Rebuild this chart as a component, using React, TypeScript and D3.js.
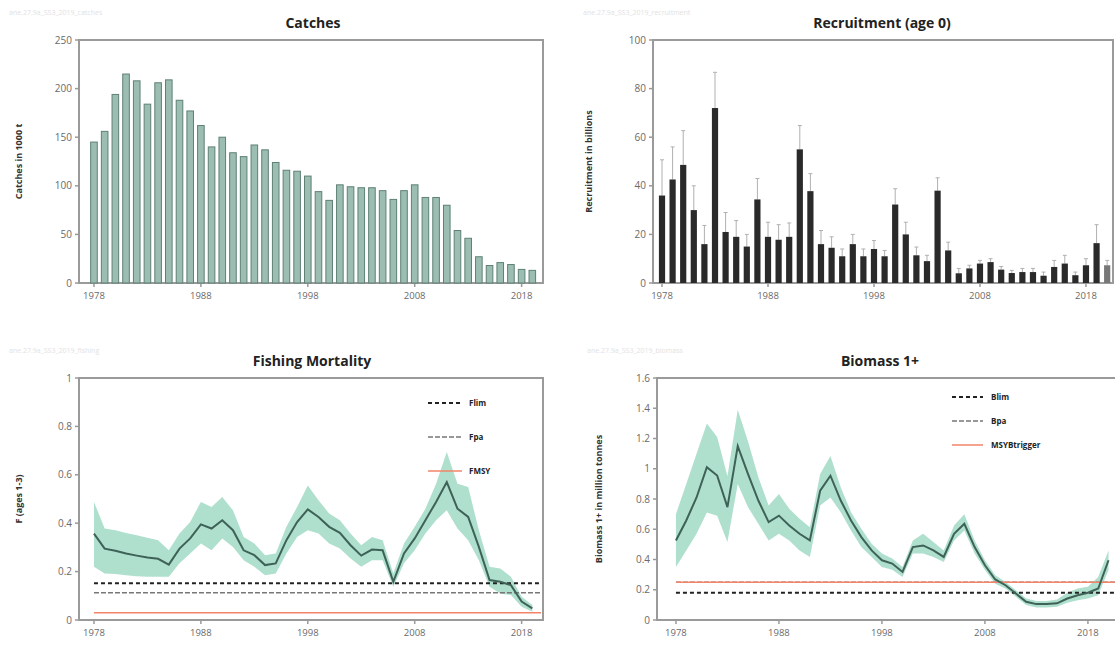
import React from 'react';
import * as d3 from 'd3';

// ---------- DATA ----------
const catchYears = [1978,1979,1980,1981,1982,1983,1984,1985,1986,1987,1988,1989,1990,1991,1992,1993,1994,1995,1996,1997,1998,1999,2000,2001,2002,2003,2004,2005,2006,2007,2008,2009,2010,2011,2012,2013,2014,2015,2016,2017,2018,2019];
const catches = [145,156,194,215,208,184,206,209,188,177,162,140,150,134,130,142,137,124,116,115,110,94,85,101,99,98,98,95,86,95,101,88,88,80,54,46,27,18,21,19,14,13];

const recYears = [1978,1979,1980,1981,1982,1983,1984,1985,1986,1987,1988,1989,1990,1991,1992,1993,1994,1995,1996,1997,1998,1999,2000,2001,2002,2003,2004,2005,2006,2007,2008,2009,2010,2011,2012,2013,2014,2015,2016,2017,2018,2019,2020];
const recruitment = [36,42.6,48.6,30,16,72,21,19,15,34.4,19,17.8,19,55,37.8,16,14.5,11,16,11,14,11,32.3,20,11.4,9,38,13.4,4,6,8,8.6,5.5,4.1,4.5,4.5,3,6.6,8,3.2,7.3,16.4,7.3];
const recruitmentHigh = [50.7,56,62.7,40,23.7,86.7,29,25.7,20,43,25,24,24.7,64.8,45,21.6,19,14,20,14,17.5,13.4,38.8,25,14.8,11.4,43.3,16.8,6,7.3,9.3,10,6.8,5.2,6,6,4.5,9.3,11.4,4.5,10,24,9.3];

const fYears = [1978,1979,1980,1981,1982,1983,1984,1985,1986,1987,1988,1989,1990,1991,1992,1993,1994,1995,1996,1997,1998,1999,2000,2001,2002,2003,2004,2005,2006,2007,2008,2009,2010,2011,2012,2013,2014,2015,2016,2017,2018,2019];
const fValues = [0.357,0.295,0.286,0.275,0.266,0.258,0.253,0.229,0.295,0.337,0.395,0.378,0.412,0.371,0.288,0.268,0.227,0.234,0.33,0.405,0.457,0.426,0.385,0.36,0.309,0.266,0.291,0.288,0.158,0.275,0.337,0.412,0.488,0.57,0.46,0.426,0.302,0.165,0.158,0.144,0.076,0.048];
const fHigh = [0.488,0.378,0.371,0.36,0.35,0.34,0.33,0.288,0.357,0.405,0.488,0.467,0.508,0.453,0.343,0.316,0.268,0.275,0.385,0.467,0.556,0.495,0.44,0.412,0.357,0.309,0.343,0.33,0.192,0.316,0.385,0.46,0.563,0.694,0.563,0.55,0.371,0.22,0.213,0.179,0.096,0.062];
const fLow = [0.22,0.192,0.19,0.185,0.181,0.179,0.179,0.179,0.234,0.275,0.316,0.288,0.337,0.302,0.247,0.22,0.185,0.192,0.275,0.343,0.371,0.357,0.316,0.295,0.254,0.22,0.247,0.247,0.137,0.234,0.288,0.357,0.412,0.453,0.378,0.33,0.247,0.137,0.11,0.103,0.055,0.034];
const fRefNames = ['Flim', 'Fpa', 'FMSY'];
const fRefValues = [0.152, 0.113, 0.03];

const bYears = [1978,1979,1980,1981,1982,1983,1984,1985,1986,1987,1988,1989,1990,1991,1992,1993,1994,1995,1996,1997,1998,1999,2000,2001,2002,2003,2004,2005,2006,2007,2008,2009,2010,2011,2012,2013,2014,2015,2016,2017,2018,2019,2020];
const bValues = [0.526,0.658,0.81,1.01,0.955,0.746,1.15,0.965,0.79,0.647,0.69,0.625,0.57,0.526,0.855,0.954,0.79,0.658,0.548,0.46,0.395,0.373,0.318,0.482,0.493,0.46,0.417,0.57,0.636,0.482,0.362,0.268,0.23,0.175,0.12,0.105,0.105,0.11,0.142,0.164,0.18,0.208,0.395];
const bHigh = [0.7,0.9,1.1,1.3,1.21,0.95,1.39,1.18,0.943,0.757,0.833,0.735,0.669,0.614,0.965,1.085,0.877,0.713,0.603,0.504,0.44,0.406,0.35,0.526,0.57,0.515,0.46,0.625,0.7,0.526,0.395,0.296,0.252,0.197,0.142,0.125,0.125,0.136,0.18,0.208,0.22,0.285,0.46];
const bLow = [0.35,0.46,0.57,0.71,0.69,0.515,0.9,0.746,0.636,0.526,0.57,0.526,0.46,0.417,0.757,0.81,0.713,0.592,0.482,0.417,0.35,0.333,0.285,0.44,0.44,0.417,0.384,0.526,0.592,0.44,0.33,0.24,0.208,0.153,0.099,0.083,0.083,0.088,0.114,0.13,0.142,0.164,0.33];
const bRefNames = ['Blim', 'Bpa', 'MSYBtrigger'];
const bRefValues = [0.18, 0.25, 0.25];

const yearTicks = [1978, 1988, 1998, 2008, 2018];
const catchTicks = [0, 50, 100, 150, 200, 250];
const recTicks = [0, 20, 40, 60, 80, 100];
const fTicks = [0, 0.2, 0.4, 0.6, 0.8, 1];
const bTicks = [0, 0.2, 0.4, 0.6, 0.8, 1, 1.2, 1.4, 1.6];

// ---------- STYLE ----------
const FONT = "'Open Sans', 'DejaVu Sans', sans-serif";
const FRAME = '#9a9a9a';
const TICK_TEXT = '#6a6a6a';
const BAND = '#a6dcc8';
const LINE = '#3e6257';

type Box = { left: number; right: number; top: number; bottom: number };

function Frame({ box, x, y, xt, yt, title, titleX, ylabel, ylabelX, watermark }: any) {
  return (
    <g>
      <text x={box.left - 70} y={box.top - 25} fontSize={7} fill="#e2e2e2" fontFamily={FONT}>{watermark}</text>
      <text x={titleX} y={box.top - 12} textAnchor="middle" fontSize={14} fontWeight="bold" fill="#222" fontFamily={FONT}>{title}</text>
      <rect x={box.left} y={box.top} width={box.right - box.left} height={box.bottom - box.top} fill="none" stroke={FRAME} strokeWidth={2} />
      {yt.map((t: number) => (
        <g key={'y' + t}>
          <line x1={box.left - 4} x2={box.left} y1={y(t)} y2={y(t)} stroke={FRAME} strokeWidth={1.5} />
          <text x={box.left - 7} y={y(t)} dy="0.35em" textAnchor="end" fontSize={10} fill={TICK_TEXT} fontFamily={FONT}>{String(t)}</text>
        </g>
      ))}
      {xt.map((t: number) => (
        <g key={'x' + t}>
          <line x1={x(t)} x2={x(t)} y1={box.bottom} y2={box.bottom + 4} stroke={FRAME} strokeWidth={1.5} />
          <text x={x(t)} y={box.bottom + 16} textAnchor="middle" fontSize={9.5} fill={TICK_TEXT} fontFamily={FONT}>{t}</text>
        </g>
      ))}
      <text transform={`translate(${ylabelX},${(box.top + box.bottom) / 2}) rotate(-90)`} textAnchor="middle" fontSize={9} fontWeight="bold" fill="#333" fontFamily={FONT}>{ylabel}</text>
    </g>
  );
}

export default function App() {
  const cBox: Box = { left: 79, right: 543, top: 40, bottom: 283 };
  const cx = d3.scaleLinear().domain([1976.6, 2020]).range([cBox.left, cBox.right]);
  const cy = d3.scaleLinear().domain([0, 250]).range([cBox.bottom, cBox.top]);

  const rBox: Box = { left: 653, right: 1113, top: 40, bottom: 283 };
  const rx = d3.scaleLinear().domain([1977.15, 2020.55]).range([rBox.left, rBox.right]);
  const ry = d3.scaleLinear().domain([0, 100]).range([rBox.bottom, rBox.top]);

  const fBox: Box = { left: 79, right: 543, top: 378, bottom: 620 };
  const fx = d3.scaleLinear().domain([1976.6, 2020]).range([fBox.left, fBox.right]);
  const fy = d3.scaleLinear().domain([0, 1]).range([fBox.bottom, fBox.top]);

  const bBox: Box = { left: 657, right: 1125, top: 378, bottom: 620 };
  const bx = d3.scaleLinear().domain([1976.16, 2021.6]).range([bBox.left, bBox.right]);
  const by = d3.scaleLinear().domain([0, 1.6]).range([bBox.bottom, bBox.top]);

  const fArea = d3.area<number>().x((_, i) => fx(fYears[i])).y0((_, i) => fy(fLow[i])).y1((_, i) => fy(fHigh[i]));
  const fLine = d3.line<number>().x((_, i) => fx(fYears[i])).y((d) => fy(d));
  const bArea = d3.area<number>().x((_, i) => bx(bYears[i])).y0((_, i) => by(bLow[i])).y1((_, i) => by(bHigh[i]));
  const bLine = d3.line<number>().x((_, i) => bx(bYears[i])).y((d) => by(d));

  const cbw = 6.6;
  const rbw = 6.2;

  const refStyle = [
    { stroke: '#222', dash: '4,3', width: 2 },
    { stroke: '#777', dash: '5,2', width: 1.5 },
    { stroke: '#f2846a', dash: '', width: 1.5 },
  ];

  return (
    <svg width={1115} height={646} style={{ position: 'absolute', left: 0, top: 0, background: '#fff' }}>
      <rect x={0} y={0} width={1115} height={646} fill="#fff" />
      {/* Catches */}
      <Frame box={cBox} x={cx} y={cy} xt={yearTicks} yt={catchTicks} title="Catches" titleX={313} ylabel="Catches in 1000 t" ylabelX={22} watermark="ane.27.9a_SS3_2019_catches" />
      {catches.map((v, i) => (
        <rect key={'c' + i} x={cx(catchYears[i]) - cbw / 2} y={cy(v)} width={cbw} height={cy(0) - cy(v)} fill="#9cbdb1" stroke="#5f8075" strokeWidth={1} />
      ))}

      {/* Recruitment */}
      <Frame box={rBox} x={rx} y={ry} xt={yearTicks} yt={recTicks} title="Recruitment (age 0)" titleX={882} ylabel="Recruitment in billions" ylabelX={592} watermark="ane.27.9a_SS3_2019_recruitment" />
      {recruitment.map((v, i) => (
        <g key={'r' + i}>
          <line x1={rx(recYears[i])} x2={rx(recYears[i])} y1={ry(v)} y2={ry(recruitmentHigh[i])} stroke="#b0b0b0" strokeWidth={1} />
          <line x1={rx(recYears[i]) - 2} x2={rx(recYears[i]) + 2} y1={ry(recruitmentHigh[i])} y2={ry(recruitmentHigh[i])} stroke="#b0b0b0" strokeWidth={1} />
          <rect x={rx(recYears[i]) - rbw / 2} y={ry(v)} width={rbw} height={ry(0) - ry(v)} fill={i === recruitment.length - 1 ? '#777' : '#2a2a2a'} />
        </g>
      ))}

      {/* Fishing mortality */}
      <Frame box={fBox} x={fx} y={fy} xt={yearTicks} yt={fTicks} title="Fishing Mortality" titleX={312} ylabel="F (ages 1-3)" ylabelX={22} watermark="ane.27.9a_SS3_2019_fishing" />
      <path d={fArea(fValues) || ''} fill={BAND} opacity={0.9} />
      {fRefValues.map((v, i) => (
        <line key={'fr' + i} x1={fx(1978)} x2={fBox.right - 2} y1={fy(v)} y2={fy(v)} stroke={refStyle[i].stroke} strokeDasharray={refStyle[i].dash} strokeWidth={refStyle[i].width} />
      ))}
      <path d={fLine(fValues) || ''} fill="none" stroke={LINE} strokeWidth={2} />
      {fRefNames.map((n, i) => (
        <g key={'fl' + i}>
          <line x1={428} x2={462} y1={403 + i * 34} y2={403 + i * 34} stroke={refStyle[i].stroke} strokeDasharray={refStyle[i].dash} strokeWidth={refStyle[i].width} />
          <text x={469} y={403 + i * 34} dy="0.35em" fontSize={8} fontWeight="bold" fill="#222" fontFamily={FONT}>{n}</text>
        </g>
      ))}

      {/* Biomass */}
      <Frame box={bBox} x={bx} y={by} xt={yearTicks} yt={bTicks} title="Biomass 1+" titleX={880} ylabel="Biomass 1+ in million tonnes" ylabelX={602} watermark="ane.27.9a_SS3_2019_biomass" />
      <path d={bArea(bValues) || ''} fill={BAND} opacity={0.9} />
      {[1, 2, 0].map((i) => (
        <line key={'br' + i} x1={bx(1978)} x2={bBox.right} y1={by(bRefValues[i])} y2={by(bRefValues[i])} stroke={refStyle[i].stroke} strokeDasharray={refStyle[i].dash} strokeWidth={refStyle[i].width} />
      ))}
      <path d={bLine(bValues) || ''} fill="none" stroke={LINE} strokeWidth={2} />
      {bRefNames.map((n, i) => (
        <g key={'bl' + i}>
          <line x1={952} x2={983} y1={397 + i * 24} y2={397 + i * 24} stroke={refStyle[i].stroke} strokeDasharray={refStyle[i].dash} strokeWidth={refStyle[i].width} />
          <text x={991} y={397 + i * 24} dy="0.35em" fontSize={8} fontWeight="bold" fill="#222" fontFamily={FONT}>{n}</text>
        </g>
      ))}
    </svg>
  );
}
